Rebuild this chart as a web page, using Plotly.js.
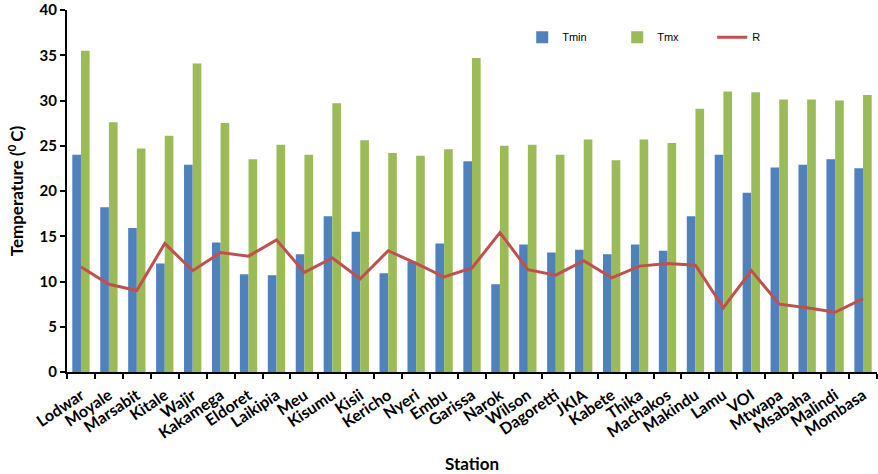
<!DOCTYPE html>
<html>
<head>
<meta charset="utf-8">
<script src="https://cdn.plot.ly/plotly-3.0.1.min.js"></script>
<style>
  html, body { margin: 0; padding: 0; background: #ffffff; }
  #chart { width: 878px; height: 474px; }
</style>
</head>
<body>
<div id="chart"></div>
<script>
// Weather stations along the x axis
const stations = ["Lodwar", "Moyale", "Marsabit", "Kitale", "Wajir", "Kakamega", "Eldoret",
  "Laikipia", "Meu", "Kisumu", "Kisii", "Kericho", "Nyeri", "Embu", "Garissa", "Narok",
  "Wilson", "Dagoretti", "JKIA", "Kabete", "Thika", "Machakos", "Makindu", "Lamu", "VOI",
  "Mtwapa", "Msabaha", "Malindi", "Mombasa"];

// Mean minimum temperature (°C)
const tmin = [24.0, 18.2, 15.9, 12.0, 22.9, 14.3, 10.8, 10.7, 13.0, 17.2, 15.5, 10.9, 12.2,
  14.2, 23.3, 9.7, 14.1, 13.2, 13.5, 13.0, 14.1, 13.4, 17.2, 24.0, 19.8, 22.6, 22.9, 23.5, 22.5];

// Mean maximum temperature (°C)
const tmx = [35.5, 27.6, 24.7, 26.1, 34.1, 27.5, 23.5, 25.1, 24.0, 29.7, 25.6, 24.2, 23.9,
  24.6, 34.7, 25.0, 25.1, 24.0, 25.7, 23.4, 25.7, 25.3, 29.1, 31.0, 30.9, 30.1, 30.1, 30.0, 30.6];

// Diurnal range R
const rng = [11.6, 9.7, 9.0, 14.2, 11.2, 13.2, 12.8, 14.6, 11.0, 12.6, 10.3, 13.4, 12.0,
  10.5, 11.5, 15.4, 11.3, 10.7, 12.3, 10.4, 11.7, 12.0, 11.8, 7.1, 11.2, 7.5, 7.1, 6.6, 8.1];

const yTicks = [0, 5, 10, 15, 20, 25, 30, 35, 40];

const boldFont = "Lato, 'Open Sans', sans-serif";

const traces = [
  { type: "bar", name: "Tmin", x: stations, y: tmin, marker: { color: "#4F81BD" } },
  { type: "bar", name: "Tmx", x: stations, y: tmx, marker: { color: "#9BBB59" } },
  { type: "scatter", mode: "lines", name: "R", x: stations, y: rng,
    line: { color: "#C0504D", width: 3 } }
];

const layout = {
  width: 878, height: 474,
  margin: { l: 67, r: 1, t: 10, b: 102, autoexpand: false },
  paper_bgcolor: "#ffffff", plot_bgcolor: "#ffffff",
  barmode: "group", bargap: 0.38, bargroupgap: 0,
  showlegend: true,
  legend: {
    orientation: "h", x: 0.562, y: 0.965, xanchor: "left", yanchor: "top",
    entrywidth: 50, entrywidthmode: "pixels",
    font: { family: "'Liberation Sans', Arial, sans-serif", size: 11, color: "#000000" },
    bgcolor: "rgba(0,0,0,0)", traceorder: "normal"
  },
  xaxis: {
    type: "category", tickangle: -34,
    tickfont: { family: boldFont, size: 16, color: "#000000", weight: 700 },
    ticklabelstandoff: 6,
    showline: true, linecolor: "#000000", linewidth: 2,
    ticks: "outside", tickson: "boundaries", ticklen: 5, tickwidth: 2, tickcolor: "#000000",
    showgrid: false, zeroline: false,
    title: { text: "Station", font: { family: boldFont, size: 17, weight: 700, color: "#000000" }, standoff: 18 }
  },
  yaxis: {
    range: [0, 40], tickvals: yTicks,
    tickfont: { family: boldFont, size: 15, color: "#000000", weight: 700 },
    showline: true, linecolor: "#000000", linewidth: 2,
    ticks: "outside", ticklen: 5, tickwidth: 2, tickcolor: "#000000",
    showgrid: false, zeroline: false,
    title: { text: "Temperature (<sup>0 </sup>C)", font: { family: boldFont, size: 17, weight: 700, color: "#000000" }, standoff: 12 }
  }
};

Plotly.newPlot("chart", traces, layout, { displayModeBar: false, staticPlot: true });
</script>
</body>
</html>
